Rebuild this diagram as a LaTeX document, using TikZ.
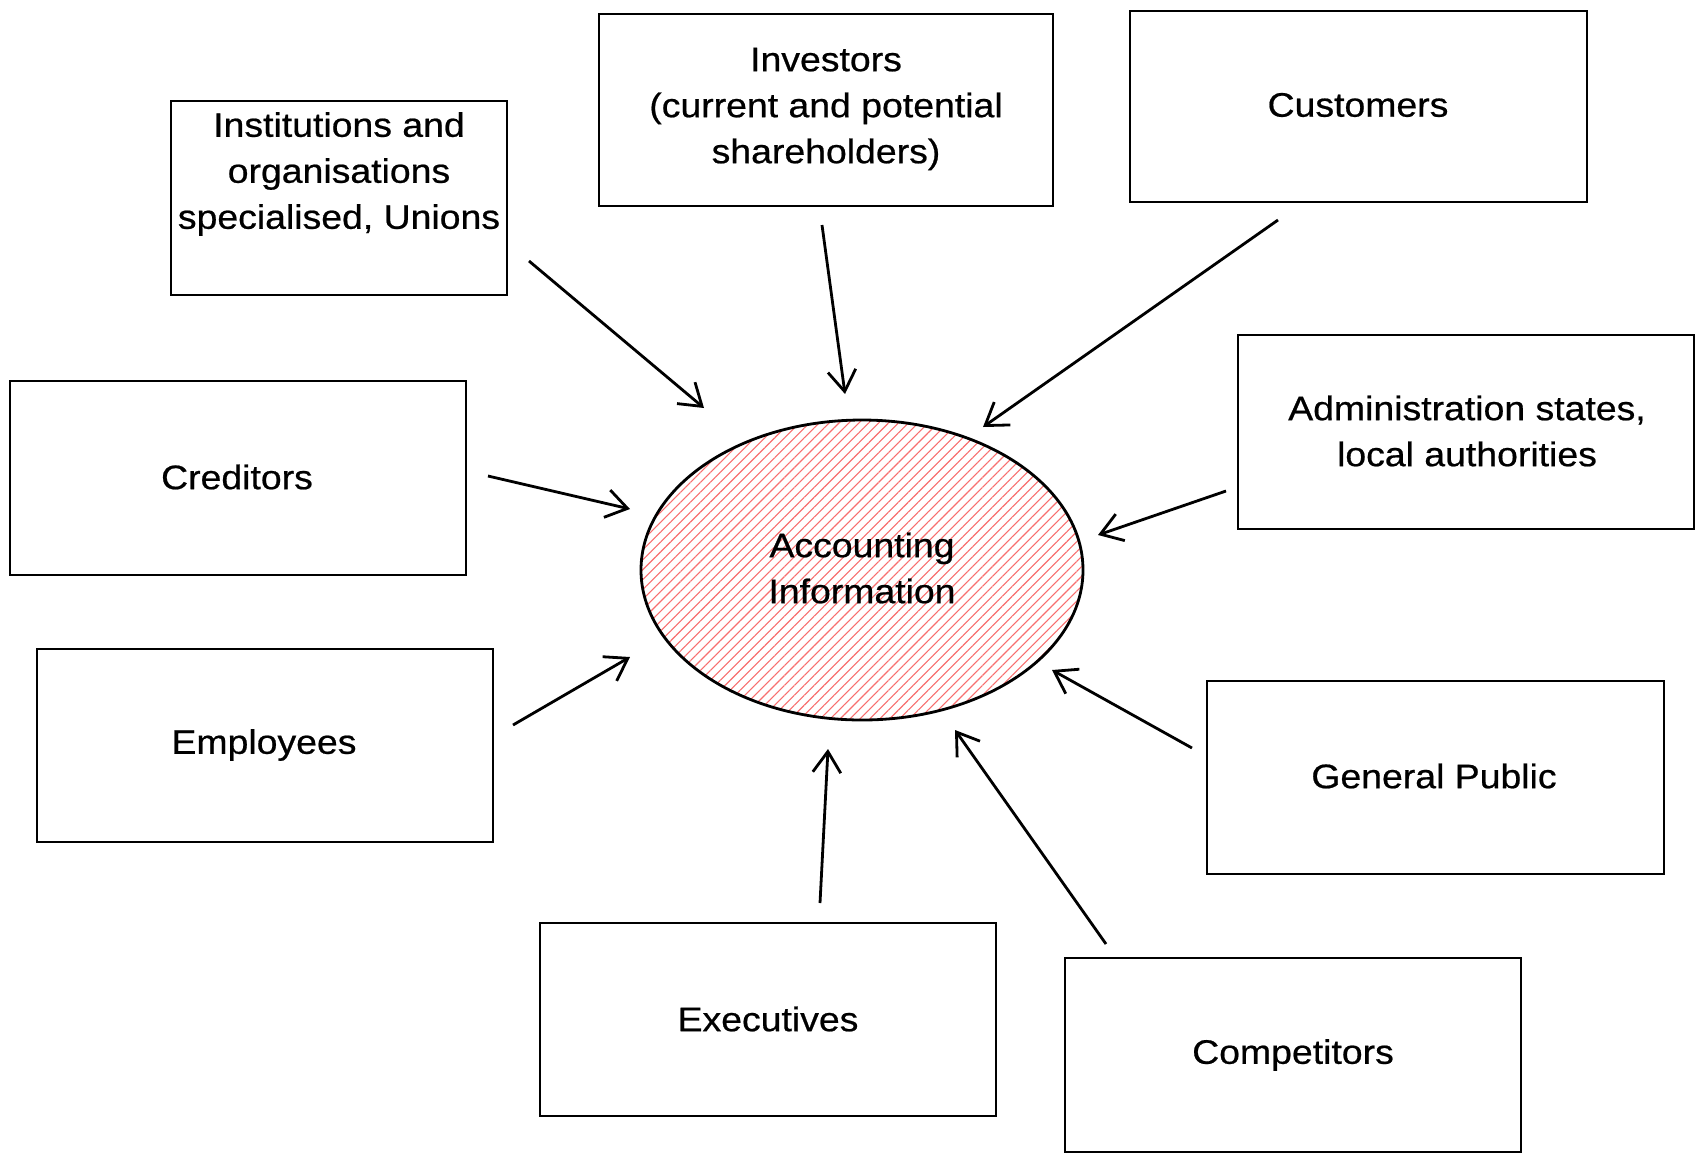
\documentclass[tikz,border=0pt]{standalone}
\usepackage{fontspec}
\setmainfont{Liberation Sans}[FakeStretch=1.1,FakeBold=0.6]
\usetikzlibrary{arrows.meta,patterns.meta}
\begin{document}
\begin{tikzpicture}[x=1pt,y=-1pt,
  box/.style={draw=black,line width=2.8pt,fill=white,inner sep=0pt},
  lbl/.style={font=\fontsize{34}{46}\selectfont,align=center,inner sep=0pt},
  arr/.style={draw=black,line width=2.8pt,-{Straight Barb[length=21pt,width=28pt,line width=2.8pt]}}]
\path[use as bounding box] (0,0) rectangle (1704,1163);
\fill[white] (0,0) rectangle (1704,1163);
% boxes
\draw[box] (171,101) rectangle (507,295);
\draw[box] (599,14) rectangle (1053,206);
\draw[box] (1130,11) rectangle (1587,202);
\draw[box] (1238,335) rectangle (1694,529);
\draw[box] (10,381) rectangle (466,575);
\draw[box] (37,649) rectangle (493,842);
\draw[box] (1207,681) rectangle (1664,874);
\draw[box] (540,923) rectangle (996,1116);
\draw[box] (1065,958) rectangle (1521,1152);
% labels
\node[lbl] (inst) at (339,174) {Institutions and\\organisations\\specialised, Unions};
\node[lbl] (inv) at (826,109) {Investors\\(current and potential\\shareholders)};
\node[lbl] (cust) at (1358,105) {Customers};
\node[lbl] (adm) at (1467,431) {Administration states,\\local authorities};
\node[lbl] (cred) at (237,477) {Creditors};
\node[lbl] (emp) at (264,745) {Employees};
\node[lbl] (gp) at (1434,776) {General Public};
\node[lbl] (exe) at (768,1019) {Executives};
\node[lbl] (comp) at (1293,1055) {Competitors};
% central ellipse
\fill[pattern={Lines[angle=45,distance=7pt,line width=1.1pt]},pattern color={rgb,255:red,248;green,110;blue,110}] (862,570) ellipse [x radius=221, y radius=150];
\draw[line width=2.8pt] (862,570) ellipse [x radius=221, y radius=150];
\node[lbl] (acc) at (862,568) {Accounting\\Information};
% arrow endpoints
\coordinate (s1) at (529,261); \coordinate (e1) at (704,408);
\coordinate (s2) at (822,225); \coordinate (e2) at (845,394);
\coordinate (s3) at (1278,220); \coordinate (e3) at (983,427);
\coordinate (s4) at (1226,491); \coordinate (e4) at (1098,535);
\coordinate (s5) at (488,476); \coordinate (e5) at (630,509);
\coordinate (s6) at (513,725); \coordinate (e6) at (630,657);
\coordinate (s7) at (1192,748); \coordinate (e7) at (1052,670);
\coordinate (s8) at (820,903); \coordinate (e8) at (828,749);
\coordinate (s9) at (1106,944); \coordinate (e9) at (955,730);
\foreach \i in {1,...,9} {\draw[arr] (s\i) -- (e\i);}
\end{tikzpicture}
\end{document}
